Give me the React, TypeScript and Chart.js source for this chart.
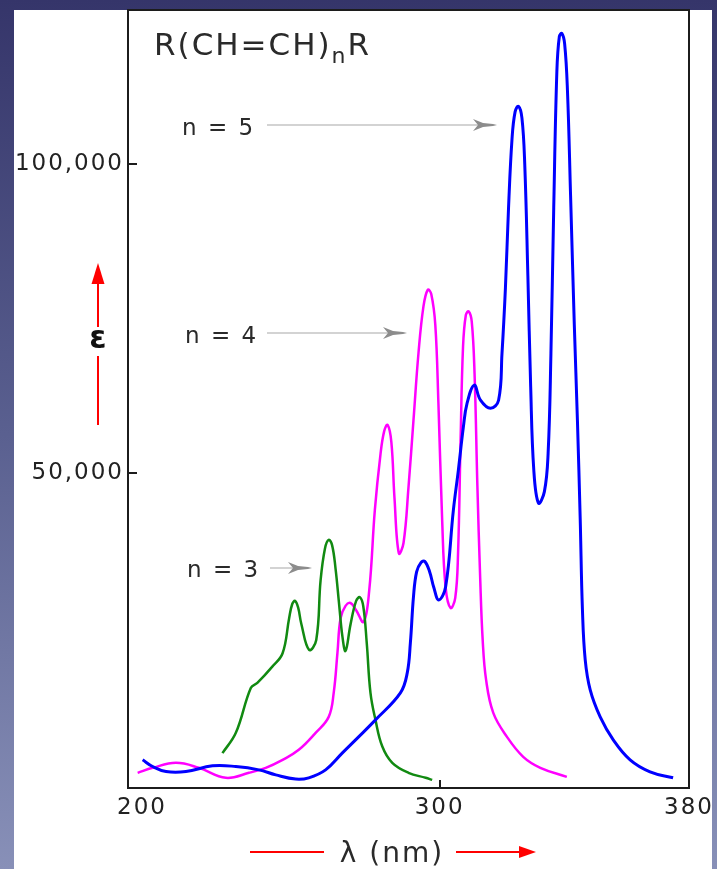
import React, { useEffect, useRef } from 'react';
import { Chart, registerables } from 'chart.js';

Chart.register(...registerables);

// n = 5 (blue)
const n5Wavelength = [204.7, 207.9, 212.2, 218.6, 227.1, 234.6, 242.0, 247.4, 253.8, 258.0, 263.4, 268.8, 274.0, 279.4, 287.4, 289.6, 290.6, 291.6, 292.6, 294.0, 295.2, 296.8, 298.1, 299.7, 301.9, 304.4, 306.0, 307.6, 308.8, 311.1, 313.1, 316.3, 318.9, 320.0, 321.1, 322.1, 323.2, 324.2, 325.3, 326.4, 327.3, 328.3, 329.2, 330.2, 331.7, 333.6, 334.8, 335.7, 336.6, 337.6, 338.4, 339.2, 340.1, 341.0, 342.0, 343.2, 344.2, 345.1, 345.8, 346.7, 348.3, 351.5, 355.7, 361.1, 367.5, 374.9];
const n5Epsilon = [3560, 2480, 1670, 1670, 2590, 2480, 1940, 1130, 440, 650, 1940, 4690, 7280, 10030, 14400, 17640, 22490, 30000, 34000, 35500, 35700, 34000, 31500, 29450, 31550, 44010, 50480, 57440, 61320, 64250, 61800, 60500, 61800, 69400, 80000, 93000, 104000, 108500, 109400, 107500, 100000, 82000, 64000, 50500, 45140, 47000, 53230, 69410, 93000, 115000, 120700, 121200, 119500, 112000, 95000, 74000, 58570, 42390, 28000, 19740, 14890, 10520, 6800, 3560, 1620, 650];

// n = 4 (magenta)
const n4Wavelength = [203.1, 207.9, 215.4, 222.7, 231.4, 238.8, 244.2, 249.6, 254.8, 260.2, 264.4, 266.0, 267.2, 268.2, 269.8, 271.4, 273.2, 275.6, 277.4, 279.2, 281.0, 282.2, 283.3, 284.5, 285.5, 286.9, 288.4, 290.0, 291.6, 293.2, 294.8, 296.2, 297.3, 298.6, 299.6, 300.8, 301.9, 303.5, 305.0, 305.9, 306.7, 307.5, 308.4, 309.3, 310.3, 311.2, 312.1, 313.0, 313.8, 314.9, 317.2, 321.6, 326.8, 332.3, 340.8];
const n4Epsilon = [1460, 2270, 3070, 2270, 650, 1460, 2270, 3560, 5180, 7930, 10520, 14400, 20870, 26500, 28500, 28960, 27800, 25900, 31000, 44000, 53000, 56800, 57800, 55000, 46000, 37000, 38670, 47730, 58570, 69410, 77000, 79700, 79000, 74000, 61320, 42390, 31550, 28150, 29800, 37050, 55000, 70500, 75600, 76200, 74500, 66000, 48000, 33000, 23000, 16500, 11160, 7280, 4050, 2270, 810];

// n = 3 (green)
const n3Wavelength = [230.3, 234.6, 239.4, 241.5, 246.3, 249.6, 251.7, 252.7, 253.6, 254.6, 255.6, 258.1, 260.4, 261.8, 263.2, 264.4, 265.5, 266.6, 267.7, 268.8, 269.8, 271.4, 273.2, 274.4, 275.5, 276.6, 277.8, 279.4, 281.6, 284.8, 290.0, 295.5, 297.6];
const n3Epsilon = [4640, 7930, 15210, 16020, 18660, 20820, 26500, 28800, 29300, 28200, 25600, 21360, 22980, 32680, 37800, 39200, 38300, 34500, 28960, 23510, 21200, 25500, 29300, 29900, 28400, 22500, 14400, 10030, 5710, 3070, 1460, 650, 320];

const xTickValues = [200, 300, 380];
const yTickValues = [50000, 100000];
const seriesLabels = ['n = 5', 'n = 4', 'n = 3'];
const titleMain = 'R(CH=CH)';
const titleSub = 'n';
const titleEnd = 'R';
const yAxisLabel = 'ε';
const xAxisLabel = 'λ (nm)';

const FONT = 'DejaVu Sans';

function pairs(xs: number[], ys: number[]) {
  return xs.map((x, i) => ({ x, y: ys[i] }));
}

const backgroundPlugin = {
  id: 'pageBackground',
  beforeDraw(chart: any) {
    const { ctx, width, height } = chart;
    ctx.save();
    const g = ctx.createLinearGradient(0, 0, 0, height);
    g.addColorStop(0, '#35356a');
    g.addColorStop(0.5, '#5a6090');
    g.addColorStop(1, '#8890b8');
    ctx.fillStyle = g;
    ctx.fillRect(0, 0, width, height);
    ctx.fillStyle = '#ffffff';
    ctx.fillRect(14, 10, 698, height - 10);
    ctx.restore();
    ctx.letterSpacing = '2px';
  },
};

function arrowHead(ctx: any, tipX: number, y: number, color: string) {
  ctx.fillStyle = color;
  ctx.beginPath();
  ctx.moveTo(tipX - 24, y - 6);
  ctx.lineTo(tipX - 14, y - 2);
  ctx.lineTo(tipX - 4, y - 1);
  ctx.lineTo(tipX, y);
  ctx.lineTo(tipX - 4, y + 1);
  ctx.lineTo(tipX - 14, y + 2);
  ctx.lineTo(tipX - 24, y + 6);
  ctx.lineTo(tipX - 19, y);
  ctx.closePath();
  ctx.fill();
}

const annotationPlugin = {
  id: 'annotations',
  afterDraw(chart: any) {
    const { ctx, chartArea, scales } = chart;
    const { left, top, right, bottom } = chartArea;
    ctx.save();
    ctx.letterSpacing = '2px';

    // frame
    ctx.strokeStyle = '#1c1c1c';
    ctx.lineWidth = 2;
    ctx.strokeRect(left, top, right - left, bottom - top);

    // inward ticks
    ctx.beginPath();
    scales.y.ticks.forEach((t: any) => {
      const y = Math.round(scales.y.getPixelForValue(t.value));
      ctx.moveTo(left, y);
      ctx.lineTo(left + 9, y);
    });
    scales.x.ticks.forEach((t: any) => {
      if (t.value > scales.x.min && t.value < scales.x.max) {
        const x = Math.round(scales.x.getPixelForValue(t.value));
        ctx.moveTo(x, bottom);
        ctx.lineTo(x, bottom - 8);
      }
    });
    ctx.stroke();

    // title
    ctx.fillStyle = '#2a2a2a';
    ctx.textBaseline = 'alphabetic';
    ctx.textAlign = 'left';
    ctx.font = `31px "${FONT}"`;
    let tx = 154;
    ctx.fillText(titleMain, tx, 55);
    tx += ctx.measureText(titleMain).width;
    ctx.font = `22px "${FONT}"`;
    ctx.fillText(titleSub, tx, 63);
    tx += ctx.measureText(titleSub).width;
    ctx.font = `31px "${FONT}"`;
    ctx.fillText(titleEnd, tx, 55);

    // series labels with arrows
    const notes = [
      { text: seriesLabels[0], x: 182, base: 135, ay: 125, from: 267, to: 497 },
      { text: seriesLabels[1], x: 185, base: 343, ay: 333, from: 267, to: 407 },
      { text: seriesLabels[2], x: 187, base: 577, ay: 568, from: 270, to: 312 },
    ];
    notes.forEach((n) => {
      ctx.fillStyle = '#2a2a2a';
      ctx.font = `23px "${FONT}"`;
      ctx.fillText(n.text, n.x, n.base);
      ctx.strokeStyle = '#c4c4c4';
      ctx.lineWidth = 1.5;
      ctx.beginPath();
      ctx.moveTo(n.from, n.ay);
      ctx.lineTo(n.to - 18, n.ay);
      ctx.stroke();
      arrowHead(ctx, n.to, n.ay, '#8c8c8c');
    });

    // y axis label with red arrow
    ctx.strokeStyle = '#ff0000';
    ctx.fillStyle = '#ff0000';
    ctx.lineWidth = 2;
    ctx.beginPath();
    ctx.moveTo(98, 283);
    ctx.lineTo(98, 327);
    ctx.moveTo(98, 356);
    ctx.lineTo(98, 425);
    ctx.stroke();
    ctx.beginPath();
    ctx.moveTo(98, 263);
    ctx.lineTo(104.5, 284);
    ctx.lineTo(91.5, 284);
    ctx.closePath();
    ctx.fill();
    ctx.fillStyle = '#111';
    ctx.font = `bold 31px "${FONT}"`;
    ctx.textAlign = 'center';
    ctx.textBaseline = 'middle';
    ctx.letterSpacing = '0px';
    ctx.fillText(yAxisLabel, 98, 340);

    // x axis label with red arrows
    ctx.letterSpacing = '2px';
    ctx.textBaseline = 'alphabetic';
    ctx.fillStyle = '#2a2a2a';
    ctx.font = `28px "${FONT}"`;
    ctx.fillText(xAxisLabel, 392, 862);
    ctx.strokeStyle = '#ff0000';
    ctx.fillStyle = '#ff0000';
    ctx.lineWidth = 2;
    ctx.beginPath();
    ctx.moveTo(250, 852);
    ctx.lineTo(324, 852);
    ctx.moveTo(456, 852);
    ctx.lineTo(522, 852);
    ctx.stroke();
    ctx.beginPath();
    ctx.moveTo(536, 852);
    ctx.lineTo(519, 846);
    ctx.lineTo(519, 858);
    ctx.closePath();
    ctx.fill();

    ctx.restore();
  },
};

export default function App() {
  const canvasRef = useRef<HTMLCanvasElement | null>(null);

  useEffect(() => {
    const canvas = canvasRef.current;
    if (!canvas) return;
    const tickFont = { family: FONT, size: 23 };
    const lineStyle = { pointRadius: 0, fill: false, tension: 0.4 };
    const chart = new Chart(canvas, {
      type: 'line',
      data: {
        datasets: [
          {
            label: seriesLabels[0],
            data: pairs(n5Wavelength, n5Epsilon),
            borderColor: '#0000ff',
            borderWidth: 3,
            ...lineStyle,
          },
          {
            label: seriesLabels[2],
            data: pairs(n3Wavelength, n3Epsilon),
            borderColor: '#118a11',
            borderWidth: 2.5,
            ...lineStyle,
          },
          {
            label: seriesLabels[1],
            data: pairs(n4Wavelength, n4Epsilon),
            borderColor: '#ff00ff',
            borderWidth: 2.5,
            ...lineStyle,
          },
        ],
      },
      options: {
        responsive: false,
        animation: false,
        devicePixelRatio: 1,
        layout: { padding: { left: 14, top: 10, right: 28, bottom: 0 } },
        plugins: {
          legend: { display: false },
          tooltip: { enabled: false },
          title: { display: false },
        },
        scales: {
          x: {
            type: 'linear',
            min: 200,
            max: 380,
            afterBuildTicks: (scale: any) => {
              scale.ticks = xTickValues.map((v) => ({ value: v }));
            },
            afterFit: (scale: any) => {
              scale.height = 81;
              scale.paddingLeft = 0;
              scale.paddingRight = 0;
            },
            ticks: {
              autoSkip: false,
              maxRotation: 0,
              padding: 6,
              color: '#222',
              font: tickFont,
              callback: (v: any) => (v === xTickValues[0] ? '   ' + String(v) : String(v)),
            },
            grid: { display: false, drawTicks: false },
            border: { display: false },
          },
          y: {
            type: 'linear',
            min: -1000,
            max: 125000,
            afterBuildTicks: (scale: any) => {
              scale.ticks = yTickValues.map((v) => ({ value: v }));
            },
            afterFit: (scale: any) => {
              scale.width = 114;
              scale.paddingTop = 0;
              scale.paddingBottom = 0;
            },
            ticks: {
              padding: 4,
              color: '#222',
              font: tickFont,
              callback: (v: any) => Number(v).toLocaleString('en-US'),
            },
            grid: { display: false, drawTicks: false },
            border: { display: false },
          },
        },
      },
      plugins: [backgroundPlugin, annotationPlugin],
    } as any);
    return () => chart.destroy();
  }, []);

  return (
    <canvas
      ref={canvasRef}
      width={717}
      height={869}
      style={{ position: 'fixed', left: 0, top: 0, display: 'block' }}
    />
  );
}
